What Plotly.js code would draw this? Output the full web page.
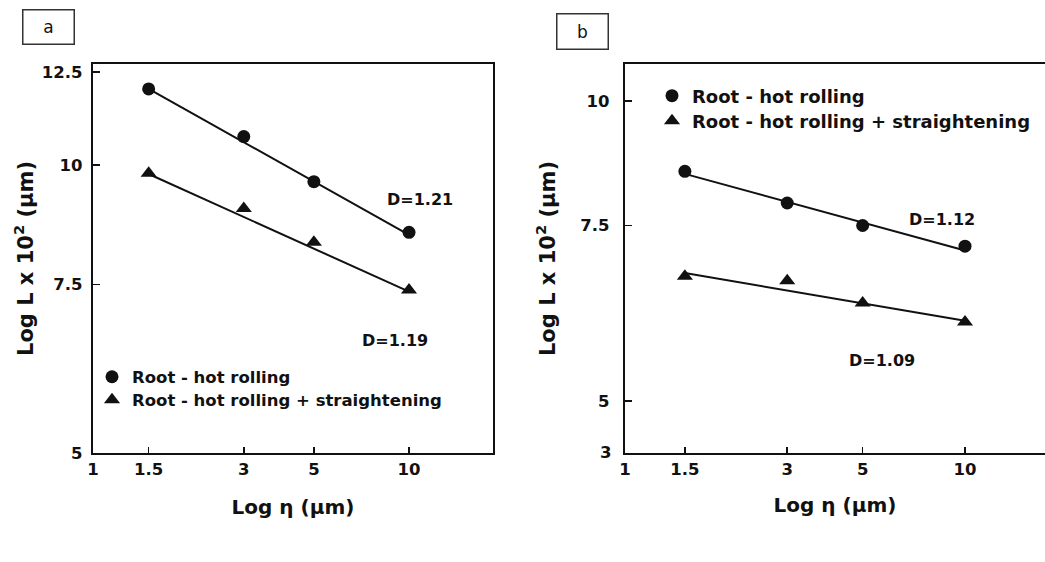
<!DOCTYPE html>
<html>
<head>
<meta charset="utf-8">
<script src="https://cdn.plot.ly/plotly-3.0.1.min.js"></script>
<style>html,body{margin:0;padding:0;background:#fff;}#chart{width:1045px;height:562px;}</style>
</head>
<body>
<div id="chart"></div>
<script>
// ---------- data ----------
const xEta = [1.5, 3, 5, 10];
const xTickVals = [1, 1.5, 3, 5, 10];
const xTickText = ["1", "1.5", "3", "5", "10"];

// panel a
const aHot = [12.0, 10.7, 9.6, 8.5];
const aStr = [9.8, 9.0, 8.3, 7.4];
const aFitX = [1.5, 10];
const aHotFit = [12.0, 8.45];
const aStrFit = [9.78, 7.37];
const aYTickVals = [5, 7.5, 10, 12.5];
const aYTickText = ["5", "7.5", "10", "12.5"];

// panel b
const bHot = [8.5, 7.9, 7.5, 7.15];
const bStr = [6.67, 6.6, 6.27, 6.0];
const bFitX = [1.5, 10];
const bHotFit = [8.45, 7.08];
const bStrFit = [6.72, 6.02];
const bYTickVals = [5, 7.5, 10];
const bYTickText = ["5", "7.5", "10"];

const seriesNames = ["Root - hot rolling", "Root - hot rolling + straightening"];
const slopeLabels = ["D=1.21", "D=1.19", "D=1.12", "D=1.09"];

// ---------- layout helpers ----------
const W = 1045, H = 562;
const px = x => x / W;
const py = y => 1 - y / H;
const INK = '#111';
const FONT = 'DejaVu Sans';
const boldFont = (s) => ({family: FONT, size: s, color: INK, weight: 'bold'});

const circle = {symbol: 'circle', size: 13, color: INK};
const tri = {symbol: 'triangle-up', size: 14, color: INK};
const lineStyle = {color: INK, width: 2};

const traces = [
  {x: aFitX, y: aHotFit, mode: 'lines', line: lineStyle, xaxis: 'x', yaxis: 'y', showlegend: false, hoverinfo: 'skip'},
  {x: aFitX, y: aStrFit, mode: 'lines', line: lineStyle, xaxis: 'x', yaxis: 'y', showlegend: false, hoverinfo: 'skip'},
  {x: xEta, y: aHot, name: seriesNames[0], mode: 'markers', marker: circle, xaxis: 'x', yaxis: 'y', legend: 'legend'},
  {x: xEta, y: aStr, name: seriesNames[1], mode: 'markers', marker: tri, xaxis: 'x', yaxis: 'y', legend: 'legend2'},
  {x: bFitX, y: bHotFit, mode: 'lines', line: lineStyle, xaxis: 'x2', yaxis: 'y2', showlegend: false, hoverinfo: 'skip'},
  {x: bFitX, y: bStrFit, mode: 'lines', line: lineStyle, xaxis: 'x2', yaxis: 'y2', showlegend: false, hoverinfo: 'skip'},
  {x: xEta, y: bHot, name: seriesNames[0], mode: 'markers', marker: circle, xaxis: 'x2', yaxis: 'y2', legend: 'legend3'},
  {x: xEta, y: bStr, name: seriesNames[1], mode: 'markers', marker: tri, xaxis: 'x2', yaxis: 'y2', legend: 'legend4'}
];

const commonAxis = {
  showgrid: false, zeroline: false, showline: true, linewidth: 2.2, linecolor: INK,
  ticks: 'inside', tickwidth: 1.6, tickcolor: INK, tickmode: 'array',
  tickfont: boldFont(16.5)
};

const legendBase = {
  bgcolor: 'rgba(0,0,0,0)', borderwidth: 0,
  xanchor: 'left', yanchor: 'middle', itemclick: false, itemdoubleclick: false
};
const legA = Object.assign({}, legendBase, {font: boldFont(16.5)});
const legB = Object.assign({}, legendBase, {font: boldFont(18)});

const yTop = 64, yBot = 453;

const layout = {
  width: W, height: H,
  margin: {l: 0, r: 0, t: 0, b: 0},
  paper_bgcolor: '#fff', plot_bgcolor: '#fff',
  showlegend: true,
  xaxis: Object.assign({}, commonAxis, {
    type: 'log', domain: [px(93), px(493)], range: [0, 1.2658], anchor: 'y',
    tickvals: xTickVals, ticktext: xTickText, ticklen: 6, mirror: true,
    title: {text: 'Log η (µm)', font: boldFont(20), standoff: 22}
  }),
  yaxis: Object.assign({}, commonAxis, {
    type: 'log', domain: [py(yBot), py(yTop)], range: [Math.log10(5), 1.1052], anchor: 'x',
    tickvals: aYTickVals, ticktext: aYTickText, ticklen: 7, mirror: true, ticklabelstandoff: 5,
    title: {text: 'Log L x 10<sup>2</sup> (µm)', font: boldFont(21), standoff: 3}
  }),
  xaxis2: Object.assign({}, commonAxis, {
    type: 'log', domain: [px(625), 1], range: [0, 1.2353], anchor: 'y2',
    tickvals: xTickVals, ticktext: xTickText, ticklen: 6, mirror: true,
    title: {text: 'Log η (µm)', font: boldFont(20), standoff: 20}
  }),
  yaxis2: Object.assign({}, commonAxis, {
    type: 'log', domain: [py(yBot), py(yTop)], range: [0.6468, 1.0371], anchor: 'x2',
    tickvals: bYTickVals, ticktext: bYTickText, ticklen: 7, mirror: false, ticklabelstandoff: 10,
    title: {text: 'Log L x 10<sup>2</sup> (µm)', font: boldFont(21), standoff: 19}
  }),
  legend: Object.assign({}, legA, {x: px(132 - 40), y: py(377)}),
  legend2: Object.assign({}, legA, {x: px(132 - 40), y: py(400)}),
  legend3: Object.assign({}, legB, {x: px(692 - 40), y: py(96)}),
  legend4: Object.assign({}, legB, {x: px(692 - 40), y: py(121)}),
  annotations: [
    {text: 'a', xref: 'paper', yref: 'paper', x: px(48.5), y: py(27), xanchor: 'center', yanchor: 'middle',
     showarrow: false, width: 50, height: 33, bordercolor: '#333', borderwidth: 1.5, borderpad: 0,
     font: {family: FONT, size: 17, color: INK}},
    {text: 'b', xref: 'paper', yref: 'paper', x: px(582), y: py(31.5), xanchor: 'center', yanchor: 'middle',
     showarrow: false, width: 50, height: 34, bordercolor: '#333', borderwidth: 1.5, borderpad: 0,
     font: {family: FONT, size: 17, color: INK}},
    {text: slopeLabels[0], xref: 'paper', yref: 'paper', x: px(420), y: py(200), showarrow: false, font: boldFont(16)},
    {text: slopeLabels[1], xref: 'paper', yref: 'paper', x: px(395), y: py(340), showarrow: false, font: boldFont(16)},
    {text: slopeLabels[2], xref: 'paper', yref: 'paper', x: px(977), y: py(219), showarrow: false, font: boldFont(16)},
    {text: slopeLabels[3], xref: 'paper', yref: 'paper', x: px(917), y: py(360), showarrow: false, font: boldFont(16)},
    {text: '3', xref: 'paper', yref: 'paper', x: px(613), y: py(452), xanchor: 'right', yanchor: 'middle', showarrow: false, font: boldFont(16.5)}
  ]
};

Plotly.newPlot('chart', traces, layout, {staticPlot: true, displayModeBar: false});
</script>
</body>
</html>
